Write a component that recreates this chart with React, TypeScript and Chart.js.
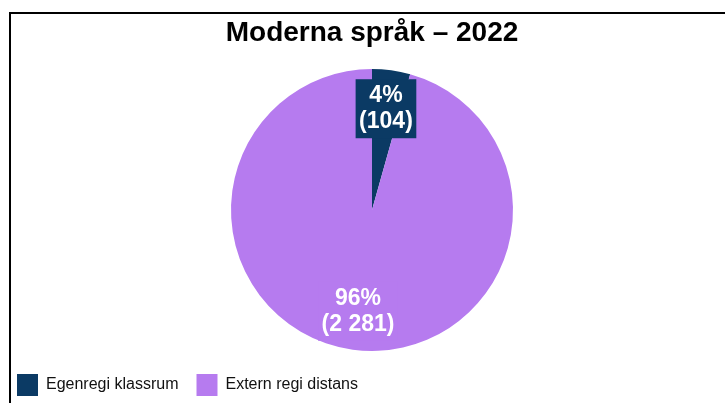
import React, { useEffect, useRef } from "react";
import { Chart, registerables } from "chart.js";

Chart.register(...registerables);

const chartTitle = "Moderna språk – 2022";
const categories = ["Egenregi klassrum", "Extern regi distans"];
const values = [104, 2281];
const colors = ["#0b3a64", "#b67bef"];

const fmt = (n: number) => String(n).replace(/\B(?=(\d{3})+(?!\d))/g, " ");

const labelPlugin = {
  id: "sliceLabels",
  afterDatasetsDraw(chart: any) {
    const ctx = chart.ctx;
    const meta = chart.getDatasetMeta(0);
    const data = chart.data.datasets[0].data as number[];
    const total = data.reduce((a, b) => a + b, 0);
    ctx.save();
    ctx.font = "bold 23px 'Liberation Sans', Arial, sans-serif";
    ctx.textAlign = "center";
    ctx.textBaseline = "middle";
    meta.data.forEach((arc: any, i: number) => {
      const { x, y, startAngle, endAngle, outerRadius } = arc.getProps(
        ["x", "y", "startAngle", "endAngle", "outerRadius"],
        true
      );
      const mid = (startAngle + endAngle) / 2;
      const r = outerRadius * 0.725;
      const cx = x + Math.cos(mid) * r;
      const cy = y + Math.sin(mid) * r;
      const l1 = Math.round((data[i] / total) * 100) + "%";
      const l2 = "(" + fmt(data[i]) + ")";
      const lh = 26;
      const w = Math.max(ctx.measureText(l1).width, ctx.measureText(l2).width) + 7;
      const h = lh * 2 + 7;
      ctx.fillStyle = colors[i];
      ctx.fillRect(cx - w / 2, cy - h / 2, w, h);
      ctx.fillStyle = "#ffffff";
      ctx.fillText(l1, cx, cy - lh / 2);
      ctx.fillText(l2, cx, cy + lh / 2);
    });
    ctx.restore();
  },
};

export default function App() {
  const ref = useRef<HTMLCanvasElement | null>(null);
  useEffect(() => {
    if (!ref.current) return;
    const chart = new Chart(ref.current, {
      type: "pie",
      data: {
        labels: categories,
        datasets: [
          {
            data: values,
            backgroundColor: colors,
            borderWidth: 0,
          },
        ],
      },
      options: {
        animation: false,
        responsive: false,
        maintainAspectRatio: false,
        radius: 141,
        plugins: {
          title: {
            display: true,
            text: chartTitle,
            color: "#000000",
            font: { size: 28, weight: "bold", family: "'Liberation Sans', Arial, sans-serif" },
            padding: { top: 16, bottom: 14.4 },
          },
          legend: {
            display: true,
            position: "bottom",
            align: "start",
            labels: {
              boxWidth: 21,
              boxHeight: 22,
              padding: 18,
              color: "#111111",
              font: { size: 16, family: "'Liberation Sans', Arial, sans-serif" },
            },
          },
          tooltip: { enabled: false },
        },
      } as any,
      plugins: [labelPlugin],
    });
    return () => chart.destroy();
  }, []);

  return (
    <div
      style={{
        position: "fixed",
        left: 0,
        top: 0,
        width: 725,
        height: 403,
        overflow: "hidden",
        background: "#ffffff",
      }}
    >
      <canvas
        ref={ref}
        width={746}
        height={406}
        style={{ position: "absolute", left: -1, top: 0, width: 746, height: 406 }}
      />
      <div
        style={{
          position: "absolute",
          left: 9,
          top: 12,
          width: 800,
          height: 500,
          borderLeft: "2px solid #000",
          borderTop: "2px solid #000",
          pointerEvents: "none",
        }}
      />
    </div>
  );
}
